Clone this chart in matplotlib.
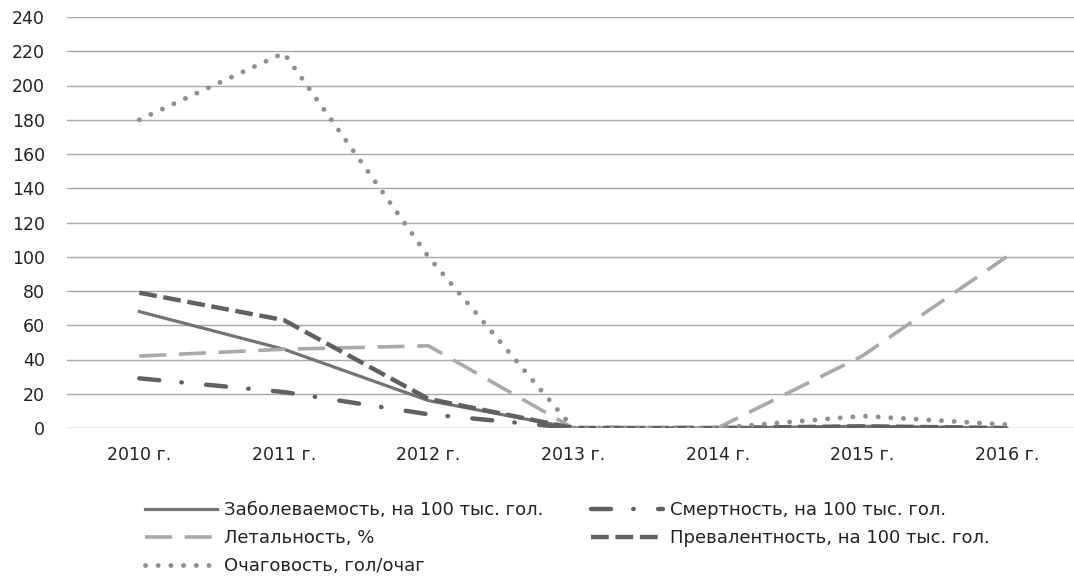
import matplotlib
matplotlib.use("Agg")
import matplotlib.pyplot as plt

years = ["2010 г.", "2011 г.", "2012 г.", "2013 г.", "2014 г.", "2015 г.", "2016 г."]
zabol = [68, 46, 16, 0, 0, 1, 0]
smert = [29, 21, 8, 0, 0, 0, 0]
letal = [42, 46, 48, 0, 0, 42, 100]
preval = [79, 63, 17, 0, 0, 1, 0]
ochag = [180, 219, 100, 0, 0, 7, 2]

labels = ["Заболеваемость, на 100 тыс. гол.", "Смертность, на 100 тыс. гол.",
          "Летальность, %", "Превалентность, на 100 тыс. гол.", "Очаговость, гол/очаг"]

plt.rcParams['font.family'] = ['DejaVu Sans']

fig = plt.figure(figsize=(10.74, 5.76), dpi=100)
ax = fig.add_axes([67/1074, 1-428/576, (1079-67)/1074, (428-17)/576])

x = list(range(len(years)))
styles = [
    dict(color="#747474", lw=2.3, ls="-"),
    dict(color="#616161", lw=3.2, ls=(0, (4.5, 5, 0.1, 5.5)), dash_capstyle="round"),
    dict(color="#a9a9a9", lw=2.6, ls=(0, (7.5, 3.5))),
    dict(color="#606060", lw=3.2, ls=(0, (4, 1.5))),
    dict(color="#8f8f8f", lw=3.5, ls=(0, (0.01, 2.6)), dash_capstyle="round"),
]
series = [zabol, smert, letal, preval, ochag]
handles = []
for vals, st, lab in zip(series, styles, labels):
    h, = ax.plot(x, vals, label=lab, **st)
    handles.append(h)

ax.set_xlim(-0.5, len(years) - 0.5)
ax.set_ylim(0, 240)
ax.set_yticks(range(0, 241, 20))
ax.set_xticks(x)
ax.set_xticklabels(years, fontsize=12.5, color="#222222")
ax.tick_params(axis='y', labelsize=12.5, colors="#222222", length=0, pad=16)
ax.tick_params(axis='x', length=0, pad=13)
ax.grid(axis='y', color="#a8a8a8", lw=1.0)
ax.set_axisbelow(True)
for s in ax.spines.values():
    s.set_visible(False)

order = [0, 2, 4, 1, 3]
leg = fig.legend([handles[i] for i in order], [labels[i] for i in order],
                 ncol=2, loc='upper left', bbox_to_anchor=(145/1074, 1-501/576),
                 frameon=False, fontsize=13, handlelength=4.0, handletextpad=0.4,
                 columnspacing=2.6, labelspacing=0.55, borderpad=0, borderaxespad=0)
for t in leg.get_texts():
    t.set_color("#222222")

fig.savefig("out.png", dpi=100)
